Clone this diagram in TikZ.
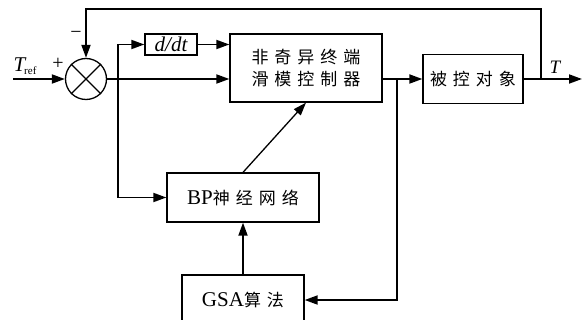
\documentclass[tikz,border=0pt]{standalone}
\usepackage{fontspec}
\setmainfont{Liberation Serif}
\newfontfamily\cjk{Noto Sans CJK SC}
\usetikzlibrary{arrows.meta,calc}
\newcommand\cg{\hspace{6pt}}
\begin{document}
\begin{tikzpicture}[x=1pt,y=-1pt,
  box/.style={draw,line width=1.3pt,inner sep=0pt,rectangle},
  arr/.style={line width=1.8pt,-{Triangle[length=13pt,width=9pt]}},
  ln/.style={line width=1.8pt},
  cj/.style={font=\cjk\fontsize{17}{22}\selectfont,align=center},
  lat/.style={font=\fontsize{21}{24}\selectfont}]
\clip (0,0) rectangle (585,320);
\node[draw,circle,line width=1.3pt,minimum size=41pt,inner sep=0pt] (sum) at (86,79) {};
\draw[line width=1.1pt] (sum.north east) -- (sum.south west) (sum.north west) -- (sum.south east);
\node[box,minimum width=52pt,minimum height=21pt,font=\fontsize{21}{24}\selectfont\itshape] (ddt) at (171,44.5) {d/dt};
\node[box,minimum width=152pt,minimum height=68pt,cj] (ctrl) at (306,68) {非\cg 奇\cg 异\cg 终\cg 端\\滑\cg 模\cg 控\cg 制\cg 器};
\node[box,minimum width=100pt,minimum height=49pt,cj] (plant) at (473,79) {被\cg 控\cg 对\cg 象};
\node[box,minimum width=152pt,minimum height=49pt] (bp) at (243,197.5) {{\fontsize{21}{24}\selectfont BP}{\cjk\fontsize{17}{22}\selectfont 神\cg 经\cg 网\cg 络}};
\node[box,minimum width=122pt,minimum height=50pt] (gsa) at (243,300) {{\fontsize{21}{24}\selectfont GSA}{\cjk\fontsize{17}{22}\selectfont 算\cg 法}};
\coordinate (in) at (13,79);
\coordinate (b1) at (118,79);
\coordinate (b2) at (397,79);
\coordinate (b3) at (541,79);
\coordinate (out) at (582,79);
\coordinate (top) at (541,9);
\draw[arr] (in) -- (sum.west);
\draw[arr] (sum.east) -- (sum.east -| ctrl.west);
\draw[ln] (b1 |- ddt) -- (b1 |- bp);
\draw[arr] (b1 |- ddt) -- (ddt.west);
\draw[arr] (ddt.east) -- (ddt.east -| ctrl.west);
\draw[arr] (b1 |- bp) -- (bp.west);
\draw[arr] (ctrl.east |- plant) -- (plant.west);
\draw[arr] (b2) |- (gsa.east);
\draw[arr] (plant.east) -- (out);
\draw[arr] (b3) -- (top) -| (sum.north);
\draw[line width=1.3pt,-{Triangle[length=13pt,width=9pt]}] (bp.north) -- (ctrl.south);
\draw[arr] (gsa.north) -- (bp.south);
\node[inner sep=0pt] (tref) at (25,66) {\fontsize{21}{24}\selectfont\itshape T\kern-1pt\raisebox{-3pt}{\upshape\fontsize{11}{11}\selectfont ref}};
\node[inner sep=0pt,font=\fontsize{20}{20}\selectfont] (plus) at (58,64) {+};
\node[inner sep=0pt,font=\fontsize{20}{20}\selectfont] (minus) at (76,35) {−};
\node[inner sep=0pt,font=\fontsize{19}{20}\selectfont\itshape] (tout) at (555,67) {T};
\end{tikzpicture}
\end{document}
